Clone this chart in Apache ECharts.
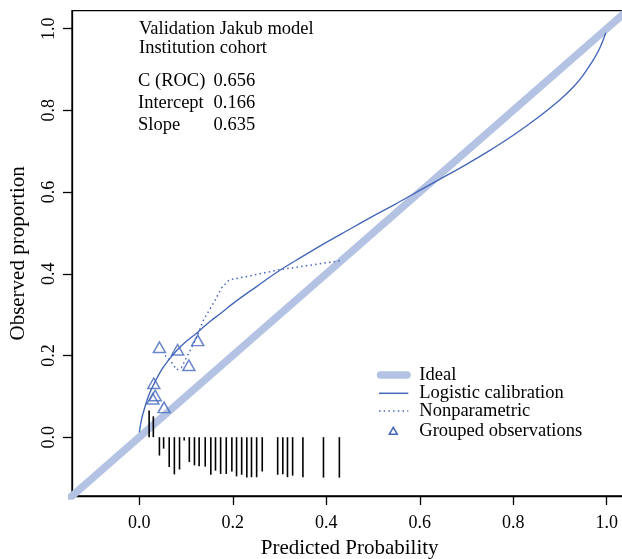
<!DOCTYPE html>
<html>
<head>
<meta charset="utf-8">
<script src="https://cdn.jsdelivr.net/npm/echarts@6/dist/echarts.min.js"></script>
<style>
html,body{margin:0;padding:0;background:#fff;}
#chart{width:622px;height:559px;}
</style>
</head>
<body>
<div id="chart"></div>
<script>
// ---- data ----
var tickValues = [0.0, 0.2, 0.4, 0.6, 0.8, 1.0];

var idealX = [-0.2, 1.1];
var idealY = [-0.2, 1.1];

var logisticX = [0.0, 0.005, 0.01, 0.02, 0.03, 0.045, 0.06, 0.08, 0.1, 0.125, 0.15, 0.175, 0.2, 0.25, 0.3, 0.35, 0.4, 0.45, 0.5, 0.55, 0.6, 0.65, 0.7, 0.75, 0.8, 0.85, 0.9, 0.93, 0.95, 0.97, 0.985, 0.998];
var logisticY = [0.012, 0.045, 0.066, 0.102, 0.127, 0.160, 0.185, 0.212, 0.234, 0.257, 0.282, 0.304, 0.327, 0.368, 0.408, 0.443, 0.477, 0.509, 0.541, 0.572, 0.604, 0.636, 0.668, 0.702, 0.739, 0.780, 0.826, 0.859, 0.887, 0.921, 0.952, 0.990];

var nonparX = [0.055, 0.068, 0.080, 0.090, 0.105, 0.123, 0.137, 0.162, 0.176, 0.192, 0.237, 0.300, 0.360, 0.430];
var nonparY = [0.200, 0.185, 0.165, 0.170, 0.204, 0.245, 0.286, 0.335, 0.365, 0.385, 0.395, 0.410, 0.420, 0.432];

var groupX = [0.043, 0.082, 0.125, 0.106, 0.031, 0.034, 0.029, 0.053];
var groupY = [0.220, 0.214, 0.237, 0.176, 0.132, 0.102, 0.094, 0.073];

var rugX = [0.021, 0.030, 0.043, 0.052, 0.064, 0.075, 0.086, 0.096, 0.107, 0.118, 0.128, 0.141, 0.153, 0.163, 0.174, 0.186, 0.198, 0.208, 0.219, 0.230, 0.240, 0.251, 0.263, 0.296, 0.307, 0.317, 0.328, 0.350, 0.394, 0.428];
var rugY = [0.065, 0.051, -0.045, -0.028, -0.073, -0.091, -0.079, -0.008, -0.061, -0.069, -0.071, -0.072, -0.092, -0.082, -0.090, -0.090, -0.084, -0.096, -0.092, -0.099, -0.098, -0.098, -0.084, -0.092, -0.091, -0.098, -0.094, -0.098, -0.099, -0.099];

var statLabels = ['C (ROC)', 'Intercept', 'Slope'];
var statValues = ['0.656', '0.166', '0.635'];
var titleLines = ['Validation Jakub model', 'Institution cohort'];
var legendNames = ['Ideal', 'Logistic calibration', 'Nonparametric', 'Grouped observations'];

// ---- styling ----
var FONT = '"Liberation Serif", "Times New Roman", serif';
var BLUE = '#4568bb';
var IDEAL = '#b4c3e3';

function zip(a, b) { return a.map(function (v, i) { return [v, b[i]]; }); }

var chart = echarts.init(document.getElementById('chart'), null, {renderer: 'canvas'});

var graphics = [];
titleLines.forEach(function (t, i) {
  graphics.push({type: 'text', x: 139, y: [29, 48][i],
    style: {text: t, font: '18.5px ' + FONT, fill: '#000', textVerticalAlign: 'middle'}});
});
statLabels.forEach(function (t, i) {
  var yy = [81, 103, 125.5][i];
  graphics.push({type: 'text', x: 138, y: yy,
    style: {text: t, font: '18.5px ' + FONT, fill: '#000', textVerticalAlign: 'middle'}});
  graphics.push({type: 'text', x: 213.5, y: yy,
    style: {text: statValues[i], font: '18.5px ' + FONT, fill: '#000', textVerticalAlign: 'middle'}});
});
var legY = [374.7, 393.3, 411.5, 430.7];
legendNames.forEach(function (t, i) {
  graphics.push({type: 'text', x: 419.3, y: legY[i],
    style: {text: t, font: '18.5px ' + FONT, fill: '#000', textVerticalAlign: 'middle'}});
});
graphics.push({type: 'line', shape: {x1: 380.5, y1: 375, x2: 407, y2: 375},
  style: {stroke: IDEAL, lineWidth: 7.5, lineCap: 'round'}});
graphics.push({type: 'line', shape: {x1: 379, y1: 393.3, x2: 408.3, y2: 393.3},
  style: {stroke: BLUE, lineWidth: 1.5}});
graphics.push({type: 'line', shape: {x1: 379, y1: 411, x2: 408.3, y2: 411},
  style: {stroke: BLUE, lineWidth: 1.5, lineDash: [1.5, 3.2]}});
graphics.push({type: 'polygon', shape: {points: [[389.3, 434.3], [397.3, 434.3], [393.3, 427.3]]},
  style: {fill: 'none', stroke: BLUE, lineWidth: 1.5}});

var option = {
  animation: false,
  backgroundColor: '#fff',
  grid: {left: 72, top: 10.7, width: 555.3, height: 485.3, show: true,
    containLabel: false, outerBoundsMode: 'none',
    borderColor: '#000', borderWidth: 1.3, backgroundColor: 'transparent'},
  xAxis: {
    type: 'value', min: -0.144, max: 1.044,
    name: 'Predicted Probability', nameLocation: 'middle', nameGap: 42,
    nameTextStyle: {fontFamily: FONT, fontSize: 21, color: '#000'},
    axisLine: {show: true, onZero: false, lineStyle: {color: '#000', width: 1.3}},
    axisTick: {show: true, length: 9, customValues: tickValues, lineStyle: {color: '#000', width: 1.3}},
    axisLabel: {customValues: tickValues, margin: 18, fontFamily: FONT, fontSize: 18, color: '#000',
      formatter: function (v) { return v.toFixed(1); }},
    splitLine: {show: false}
  },
  yAxis: {
    type: 'value', min: -0.144, max: 1.044,
    name: 'Observed proportion', nameLocation: 'middle', nameGap: 43,
    nameTextStyle: {fontFamily: FONT, fontSize: 21, color: '#000'},
    axisLine: {show: true, onZero: false, lineStyle: {color: '#000', width: 1.3}},
    axisTick: {show: true, length: 9, customValues: tickValues, lineStyle: {color: '#000', width: 1.3}},
    axisLabel: {customValues: tickValues, margin: 14, rotate: 90, fontFamily: FONT, fontSize: 18, color: '#000',
      formatter: function (v) { return v.toFixed(1); }},
    splitLine: {show: false}
  },
  series: [
    {type: 'line', name: 'Ideal', data: zip(idealX, idealY), symbol: 'none', clip: true, silent: true,
      lineStyle: {color: IDEAL, width: 7.5, cap: 'butt'}, z: 1},
    {type: 'line', name: 'Logistic calibration', data: zip(logisticX, logisticY), symbol: 'none',
      smooth: 0.4, silent: true, lineStyle: {color: BLUE, width: 1.4}, z: 2},
    {type: 'line', name: 'Nonparametric', data: zip(nonparX, nonparY), symbol: 'none', silent: true,
      lineStyle: {color: BLUE, width: 1.5, type: [1.5, 3.2]}, z: 3},
    {type: 'scatter', name: 'Grouped observations', data: zip(groupX, groupY), symbol: 'triangle',
      symbolSize: [12, 10.5], silent: true,
      itemStyle: {color: 'rgba(0,0,0,0)', borderColor: BLUE, borderWidth: 1.5}, z: 4},
    {type: 'custom', name: 'rug', data: zip(rugX, rugY), silent: true, z: 5,
      renderItem: function (params, api) {
        var p0 = api.coord([api.value(0), 0]);
        var p1 = api.coord([api.value(0), api.value(1)]);
        return {type: 'line', shape: {x1: p0[0], y1: p0[1], x2: p1[0], y2: p1[1]},
          style: {stroke: '#000', lineWidth: 1.6}};
      }}
  ],
  graphic: graphics
};
chart.setOption(option);
</script>
</body>
</html>
